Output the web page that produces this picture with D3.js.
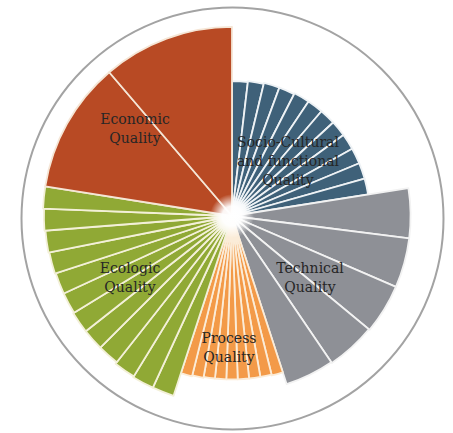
<!DOCTYPE html>
<html>
<head>
<meta charset="utf-8">
<script src="https://cdn.jsdelivr.net/npm/d3@7"></script>
<style>
  html, body { margin: 0; padding: 0; background: #ffffff; }
  svg { display: block; }
  .label { font-family: "DejaVu Serif", serif; font-size: 14px; fill: #262626; }
</style>
</head>
<body>
<div id="chart"></div>
<script>
// Categories, clockwise from 12 o'clock, with their weights (share of the circle)
const categories = ["Socio-Cultural", "Technical", "Process", "Ecologic", "Economic"];
const weights = [22.5, 22.5, 10, 22.5, 22.5];
const labelLines = [
  ["Socio-Cultural", "and functional", "Quality"],
  ["Technical", "Quality"],
  ["Process", "Quality"],
  ["Ecologic", "Quality"],
  ["Economic", "Quality"]
];
const colors = ["#3f6179", "#8e9096", "#f39a48", "#90a935", "#b84a24"];
const dividerColors = ["#eef2f5", "#f2f2f2", "#fbecd8", "#f3f0d8", "#f5e6d6"];

// Criterion scores (radius) of every sub-slice, per category
const socioValues = [71, 71.5, 72, 72, 72.5, 72.5, 72.5, 72.5, 72.5, 72.5, 72.5, 72.5];
const technicalValues = [94, 94, 94, 93.5, 93];
const processValues = [86.5, 86, 86, 86, 86, 86, 86, 86.5, 87];
const ecologicValues = [99.5, 99.5, 99, 98, 98, 98, 97.5, 97.5, 98, 98.5, 99, 99.5];
const economicValues = [99.5, 99.5];
const seriesValues = [socioValues, technicalValues, processValues, ecologicValues, economicValues];

const width = 453, height = 433;
const cx = 232, cy = 216;

const svg = d3.select("#chart").append("svg")
  .attr("width", width)
  .attr("height", height);

// Outer ring
svg.append("circle")
  .attr("cx", 232.5)
  .attr("cy", 218.5)
  .attr("r", 211)
  .attr("fill", "none")
  .attr("stroke", "#a3a3a3")
  .attr("stroke-width", 2);

const g = svg.append("g").attr("transform", `translate(${cx},${cy})`);

// radius scale
const rScale = d3.scaleLinear().domain([0, 100]).range([0, 190]);

// category angles from the weights
const pie = d3.pie().sort(null).value(d => d);
const catArcs = pie(weights);

const arc = d3.arc();

catArcs.forEach((c, i) => {
  const vals = seriesValues[i];
  const angleScale = d3.scaleLinear().domain([0, vals.length]).range([c.startAngle, c.endAngle]);
  g.append("g").selectAll("path")
    .data(vals)
    .join("path")
    .attr("d", (d, j) => arc({
      innerRadius: 0,
      outerRadius: rScale(d),
      startAngle: angleScale(j),
      endAngle: angleScale(j + 1)
    }))
    .attr("fill", colors[i])
    .attr("stroke", dividerColors[i])
    .attr("stroke-width", 1.8)
    .attr("stroke-linejoin", "round");
});

// white glow in the middle
const defs = svg.append("defs");
const grad = defs.append("radialGradient").attr("id", "glow");
grad.append("stop").attr("offset", "0%").attr("stop-color", "#fff").attr("stop-opacity", 1);
grad.append("stop").attr("offset", "45%").attr("stop-color", "#fff").attr("stop-opacity", 0.95);
grad.append("stop").attr("offset", "100%").attr("stop-color", "#fff").attr("stop-opacity", 0);
g.append("circle").attr("r", 22).attr("fill", "url(#glow)");

// Labels: rough centres picked per category
const labelPos = [[288, 147], [310, 273], [229, 343], [130, 273], [135, 124]];
labelLines.forEach((lines, i) => {
  const t = svg.append("text")
    .attr("class", "label")
    .attr("text-anchor", "middle");
  lines.forEach((l, k) => {
    t.append("tspan")
      .attr("x", labelPos[i][0])
      .attr("y", labelPos[i][1] + k * 19)
      .text(l);
  });
});
</script>
</body>
</html>
